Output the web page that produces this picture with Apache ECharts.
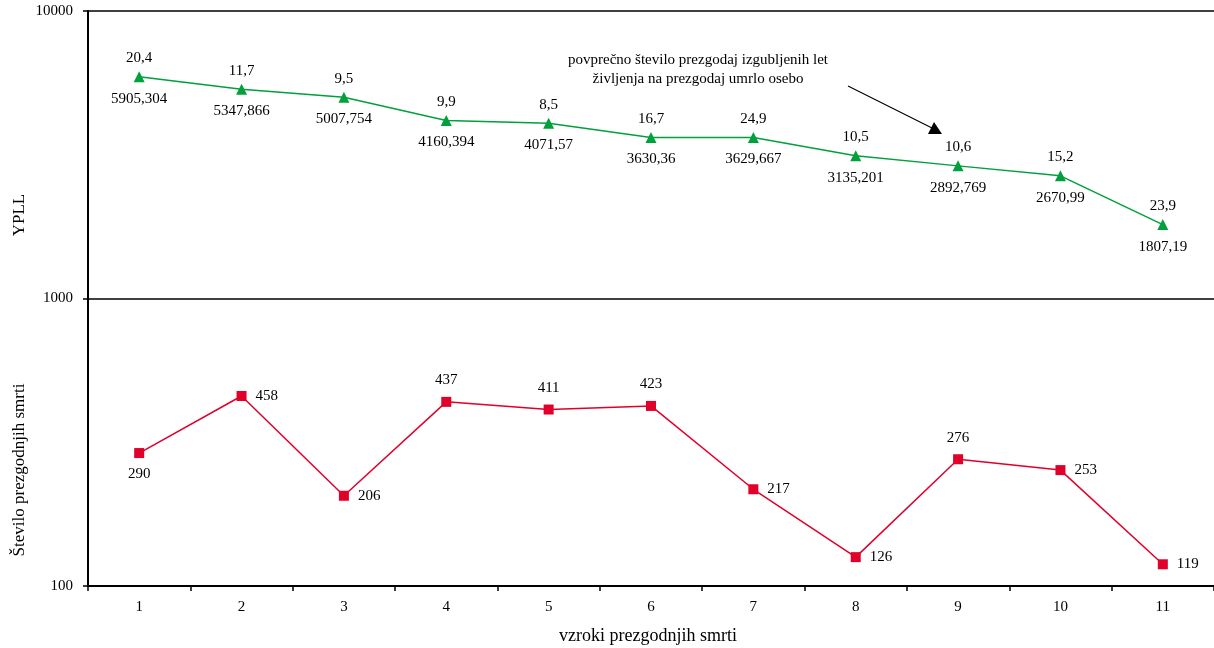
<!DOCTYPE html>
<html>
<head>
<meta charset="utf-8">
<script src="https://cdn.jsdelivr.net/npm/echarts@6/dist/echarts.min.js"></script>
<style>
  html, body { margin: 0; padding: 0; background: #fff; }
  #chart { width: 1214px; height: 648px; }
</style>
</head>
<body>
<div id="chart"></div>
<script>
// vzroki (kategorije)
const categories = ['1', '2', '3', '4', '5', '6', '7', '8', '9', '10', '11'];
// YPLL vrednosti
const ypll = [5905.304, 5347.866, 5007.754, 4160.394, 4071.57, 3630.36, 3629.667, 3135.201, 2892.769, 2670.99, 1807.19];
// povprecno stevilo izgubljenih let na osebo
const avgYears = ['20,4', '11,7', '9,5', '9,9', '8,5', '16,7', '24,9', '10,5', '10,6', '15,2', '23,9'];
// stevilo prezgodnjih smrti
const deaths = [290, 458, 206, 437, 411, 423, 217, 126, 276, 253, 119];
// polozaj oznak pri rdeci crti
const deathLabelPos = ['bottom', 'right', 'right', 'top', 'top', 'top', 'right', 'right', 'top', 'right', 'right'];

const font = '"Liberation Serif", "DejaVu Serif", serif';
const green = '#00a03c';
const red = '#e0002a';

const chart = echarts.init(document.getElementById('chart'));

chart.setOption({
    animation: false,
    textStyle: { fontFamily: font, color: '#000' },
    grid: { left: 88, right: -1, top: 11, bottom: 62 },
    xAxis: {
        type: 'category',
        data: categories,
        boundaryGap: true,
        axisLine: { lineStyle: { color: '#000', width: 2 } },
        axisTick: { show: true, length: 5, lineStyle: { color: '#000', width: 1.5 } },
        axisLabel: { color: '#000', fontSize: 15, fontFamily: font, margin: 14 },
        splitLine: { show: false }
    },
    yAxis: {
        type: 'log',
        logBase: 10,
        min: 100,
        max: 10000,
        axisLine: { show: true, lineStyle: { color: '#000', width: 2 } },
        axisTick: { show: true, length: 5, lineStyle: { color: '#000', width: 1.5 } },
        axisLabel: { color: '#000', fontSize: 15, fontFamily: font, margin: 15, formatter: v => String(Math.round(v)) },
        splitLine: { show: true, lineStyle: { color: '#000', width: 1.5 } },
        minorTick: { show: false }
    },
    series: [
        {
            name: 'YPLL',
            type: 'line',
            data: ypll,
            symbol: 'triangle',
            symbolSize: 11,
            itemStyle: { color: green },
            lineStyle: { color: green, width: 1.5 },
            label: {
                show: true,
                position: 'bottom',
                distance: 9,
                fontSize: 15,
                fontFamily: font,
                color: '#000',
                formatter: p => String(p.value).replace('.', ',')
            },
            z: 3
        },
        {
            name: 'povprecje',
            type: 'scatter',
            data: ypll,
            symbol: 'circle',
            symbolSize: 4,
            itemStyle: { color: 'rgba(0,0,0,0)', opacity: 1 },
            label: {
                show: true,
                position: 'top',
                distance: 9,
                fontSize: 15,
                fontFamily: font,
                color: '#000',
                opacity: 1,
                formatter: p => avgYears[p.dataIndex]
            },
            silent: true,
            z: 2
        },
        {
            name: 'smrti',
            type: 'line',
            data: deaths.map((v, i) => ({
                value: v,
                label: { position: deathLabelPos[i] }
            })),
            symbol: 'rect',
            symbolSize: 10,
            itemStyle: { color: red },
            lineStyle: { color: red, width: 1.5 },
            label: {
                show: true,
                distance: 9,
                fontSize: 15,
                fontFamily: font,
                color: '#000'
            },
            z: 3
        }
    ],
    graphic: [
        {
            type: 'text',
            rotation: Math.PI / 2,
            x: 20, y: 215,
            style: { text: 'YPLL', font: '17px ' + font, fill: '#000', textAlign: 'center', textVerticalAlign: 'middle' }
        },
        {
            type: 'text',
            rotation: Math.PI / 2,
            x: 20, y: 470,
            style: { text: 'Število prezgodnjih smrti', font: '17px ' + font, fill: '#000', textAlign: 'center', textVerticalAlign: 'middle' }
        },
        {
            type: 'text',
            x: 648, y: 636,
            style: { text: 'vzroki prezgodnjih smrti', font: '18px ' + font, fill: '#000', textAlign: 'center', textVerticalAlign: 'middle' }
        },
        {
            type: 'text',
            x: 698, y: 70,
            style: {
                text: 'povprečno število prezgodaj izgubljenih let\nživljenja na prezgodaj umrlo osebo',
                font: '15px ' + font, fill: '#000', textAlign: 'center', textVerticalAlign: 'middle', lineHeight: 19
            }
        },
        {
            type: 'line',
            shape: { x1: 848, y1: 86, x2: 932, y2: 128 },
            style: { stroke: '#000', lineWidth: 1.2 }
        },
        {
            type: 'polygon',
            shape: { points: [[942, 134], [928, 134], [934, 122]] },
            style: { fill: '#000' }
        }
    ]
});
</script>
</body>
</html>
